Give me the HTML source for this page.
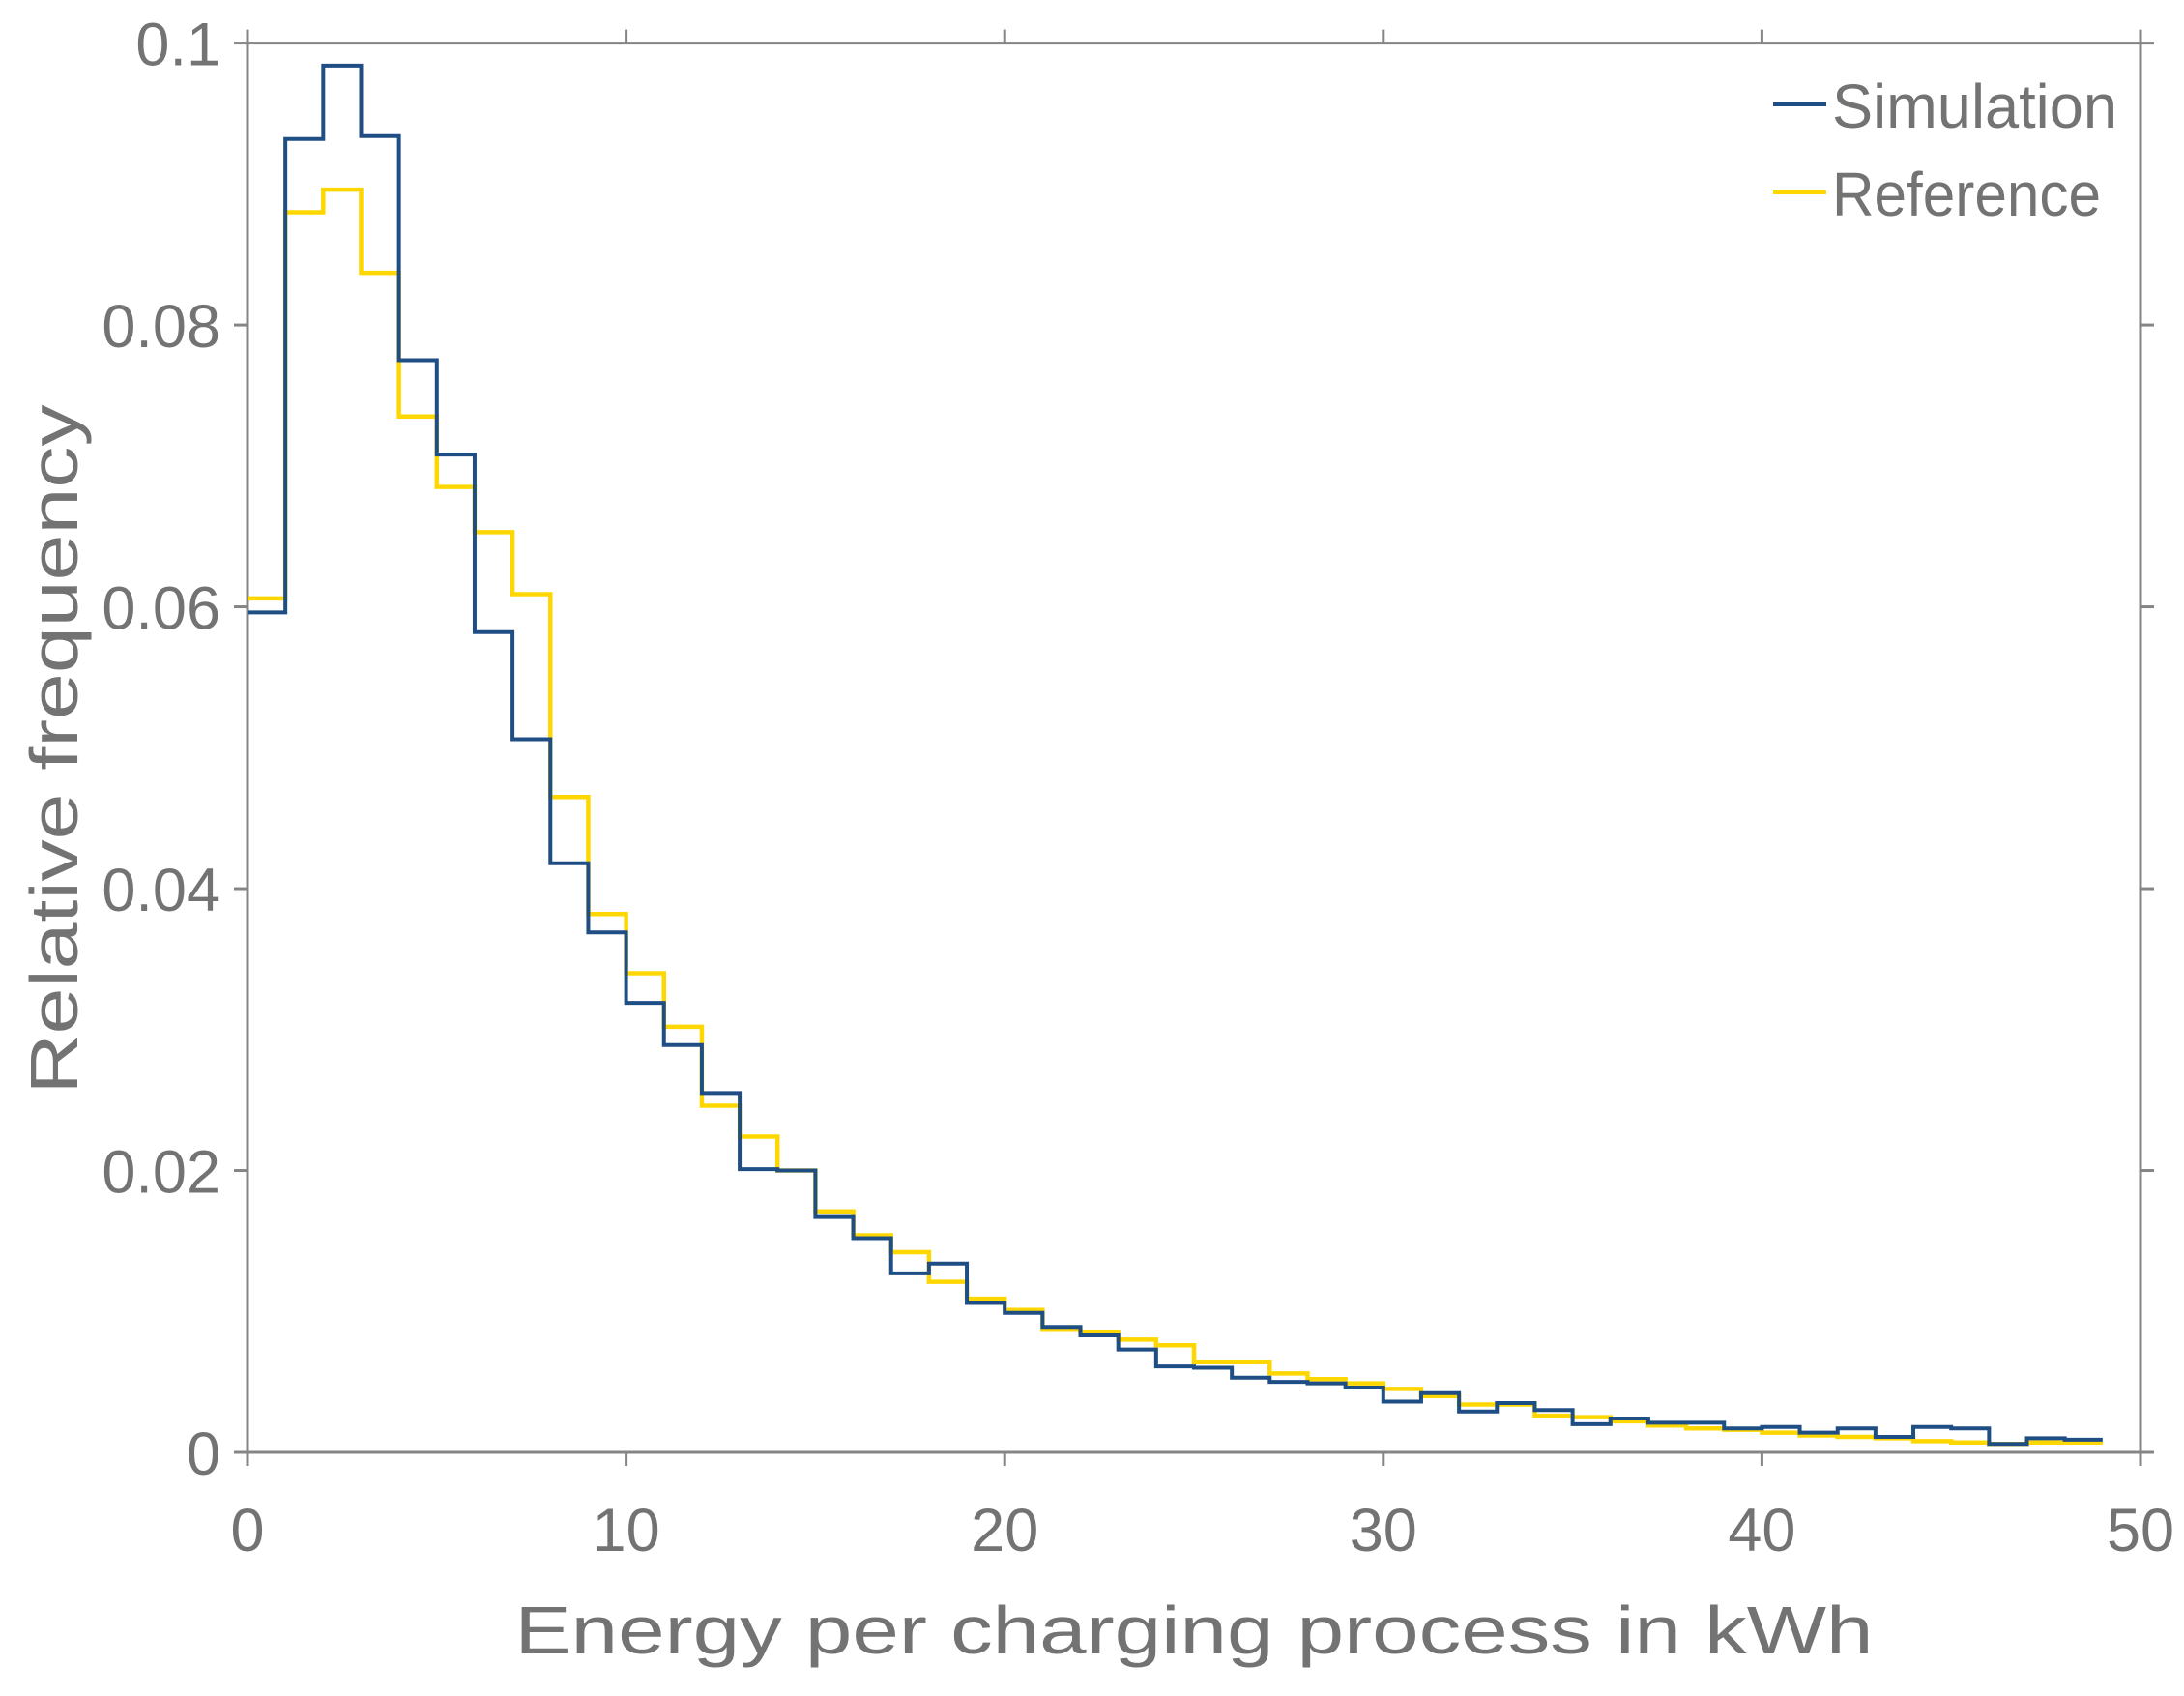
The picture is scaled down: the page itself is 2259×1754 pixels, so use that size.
<!DOCTYPE html>
<html><head><meta charset="utf-8"><style>
html,body{margin:0;padding:0;background:#fff;}
svg{display:block;}
text{font-family:"Liberation Sans",sans-serif;fill:#737373;}
</style></head><body>
<svg id="s" width="2259" height="1754" viewBox="0 0 2259 1754" xmlns="http://www.w3.org/2000/svg">
<g stroke="#858585" stroke-width="3" fill="none">
<rect x="256" y="44.6" width="1958" height="1457.4"/>
</g>
<g id="ticks" stroke="#858585" stroke-width="3"></g>
<g font-size="63" text-anchor="end" id="yl"></g>
<g font-size="63" text-anchor="middle" id="xl"></g>
<path id="ref" fill="none" stroke="#ffd700" stroke-width="4.5"/>
<path id="sim" fill="none" stroke="#1f4e85" stroke-width="4"/>
<text x="1235" y="1710" font-size="70" text-anchor="middle" textLength="1405" lengthAdjust="spacingAndGlyphs">Energy per charging process in kWh</text>
<text transform="translate(80,775) rotate(-90)" font-size="70" text-anchor="middle" textLength="713" lengthAdjust="spacingAndGlyphs">Relative frequency</text>
<line x1="1834" y1="108" x2="1889" y2="108" stroke="#1f4e85" stroke-width="4"/>
<line x1="1834" y1="199" x2="1889" y2="199" stroke="#ffd700" stroke-width="4"/>
<text x="1895" y="132" font-size="64" textLength="295" lengthAdjust="spacingAndGlyphs">Simulation</text>
<text x="1895" y="223" font-size="64" textLength="278" lengthAdjust="spacingAndGlyphs">Reference</text>
</svg>
<script>
var X0=256,X1=2214,Y0=1502,Y1=44.6;
function px(x){return X0+(X1-X0)*x/50;}
function py(y){return Y0-(Y0-Y1)*y/0.1;}
var sim=[.0596,.0932,.0984,.0934,.0775,.0708,.0582,.0506,.0418,.0369,.0319,.0289,.0255,.0201,.0200,.0167,.0152,.0127,.0134,.0106,.0099,.0089,.0083,.0073,.0061,.0060,.0053,.0050,.0049,.0046,.0036,.0042,.0029,.0035,.0030,.0020,.0024,.0021,.0021,.0017,.0018,.0014,.0017,.0011,.0018,.0017,.0006,.0010,.0009];
var ref=[.0606,.0880,.0896,.0837,.0735,.0685,.0653,.0609,.0465,.0382,.0340,.0302,.0246,.0224,.0200,.0171,.0154,.0142,.0121,.0109,.0101,.0087,.0085,.0080,.0076,.0064,.0064,.0056,.0052,.0049,.0045,.0040,.0034,.0034,.0026,.0025,.0022,.0019,.0017,.0016,.0014,.0012,.0011,.0010,.0008,.0007,.0006,.0007,.0007];
function path(a){var d="M"+px(0)+" "+py(a[0]);for(var i=0;i<a.length;i++){d+=" L"+px(i)+" "+py(a[i])+" L"+px(i+1)+" "+py(a[i]);}return d;}
document.getElementById("sim").setAttribute("d",path(sim));
document.getElementById("ref").setAttribute("d",path(ref));
var t="",yl="",xl="";
var yt=["0","0.02","0.04","0.06","0.08","0.1"];
for(var i=0;i<=5;i++){var y=py(i*0.02);
t+='<line x1="'+(X0-14)+'" y1="'+y+'" x2="'+X0+'" y2="'+y+'"/><line x1="'+X1+'" y1="'+y+'" x2="'+(X1+14)+'" y2="'+y+'"/>';
yl+='<text x="228" y="'+(y+23)+'">'+yt[i]+'</text>';}
for(var i=0;i<=5;i++){var x=px(i*10);
t+='<line x1="'+x+'" y1="'+Y0+'" x2="'+x+'" y2="'+(Y0+14)+'"/><line x1="'+x+'" y1="'+(Y1-14)+'" x2="'+x+'" y2="'+Y1+'"/>';
xl+='<text x="'+x+'" y="1604">'+(i*10)+'</text>';}
document.getElementById("ticks").innerHTML=t;
document.getElementById("yl").innerHTML=yl;
document.getElementById("xl").innerHTML=xl;
</script>
</body></html>
